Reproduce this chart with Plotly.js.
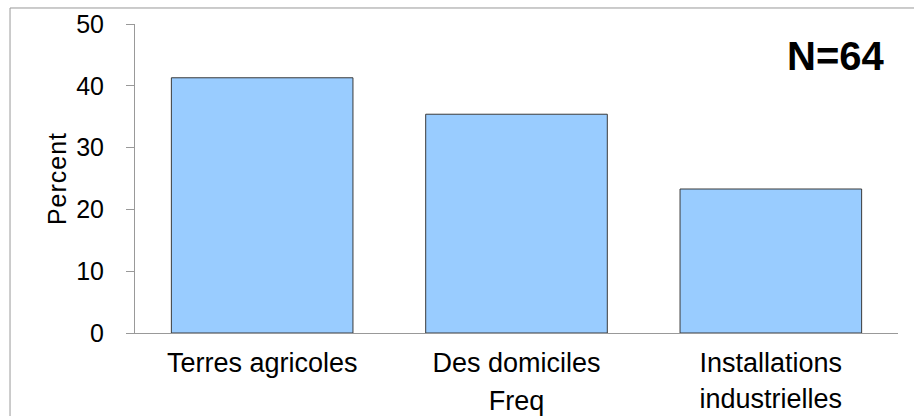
<!DOCTYPE html>
<html>
<head>
<meta charset="utf-8">
<script src="https://cdn.plot.ly/plotly-3.0.1.min.js"></script>
<style>
  html, body { margin: 0; padding: 0; background: #fff; }
  #chart { width: 914px; height: 416px; }
  #chart .ytitle { letter-spacing: 1px; }
</style>
</head>
<body>
<div id="chart"></div>
<script>
const categories = ["Terres agricoles", "Des domiciles", "Installations<br>industrielles"];
const percents = [41.3, 35.4, 23.3];
const yTicks = [0, 10, 20, 30, 40, 50];
const nLabel = "N=64";
const xTitle = "Freq";
const yTitle = "Percent";

const font = "Liberation Sans, Arial, sans-serif";

const trace = {
  type: "bar",
  x: [0, 1, 2],
  y: percents,
  marker: { color: "#99CCFF", line: { color: "#3a3a3a", width: 1 } },
  hoverinfo: "skip"
};

const layout = {
  width: 914,
  height: 416,
  margin: { l: 135, r: 16, t: 24, b: 83, pad: 0 },
  paper_bgcolor: "#ffffff",
  plot_bgcolor: "#ffffff",
  showlegend: false,
  bargap: 0.286,
  font: { family: font, color: "#000000" },
  xaxis: {
    type: "linear",
    range: [-0.5, 2.5],
    tickvals: [0, 1, 2],
    ticktext: categories,
    showgrid: false,
    zeroline: false,
    showline: true,
    linecolor: "#999999",
    linewidth: 1,
    ticks: "",
    tickfont: { size: 27, family: font, color: "#000" },
    ticklabelstandoff: 6,
    automargin: false,
    title: { text: xTitle, font: { size: 27, family: font, color: "#000" }, standoff: 0 }
  },
  yaxis: {
    range: [0, 50],
    tickvals: yTicks,
    showgrid: false,
    zeroline: false,
    showline: true,
    linecolor: "#999999",
    linewidth: 1,
    ticks: "outside",
    ticklen: 8,
    tickcolor: "#999999",
    tickwidth: 1,
    tickfont: { size: 25, family: font, color: "#000" },
    ticklabelstandoff: 17,
    automargin: false,
    title: { text: yTitle, font: { size: 25, family: font, color: "#000" }, standoff: 2 }
  },
  shapes: [{
    type: "rect", xref: "paper", yref: "paper",
    x0: -0.1638, x1: 1.1, y0: -0.6, y1: 1.0518,
    line: { color: "#999999", width: 1 }, fillcolor: "rgba(0,0,0,0)", layer: "below"
  }],
  annotations: [{
    text: nLabel, xref: "paper", yref: "paper",
    x: 0.9187, y: 0.896, xanchor: "center", yanchor: "middle",
    showarrow: false,
    font: { size: 40, family: font, color: "#000", weight: "bold" }
  }]
};

Plotly.newPlot("chart", [trace], layout, { displayModeBar: false, staticPlot: true });
</script>
</body>
</html>
